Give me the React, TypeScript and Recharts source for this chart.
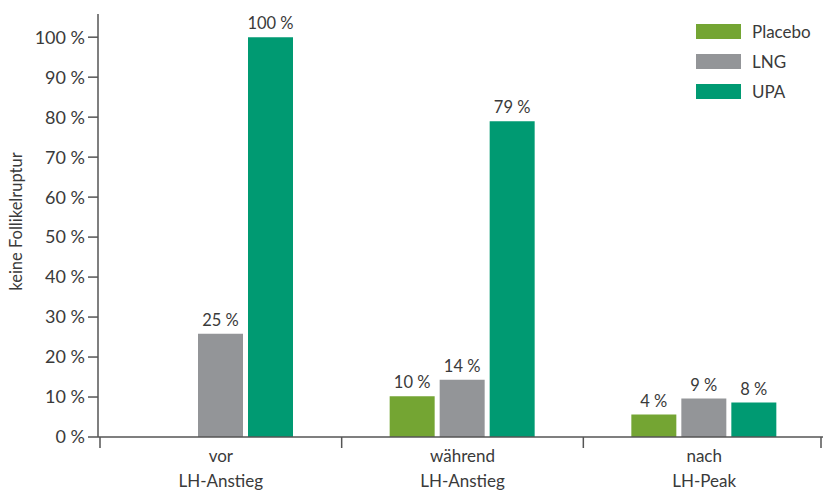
import { BarChart, Bar, XAxis, YAxis, LabelList, Legend } from "recharts"

const categoryTop = ["vor", "während", "nach"]
const categoryBottom = ["LH-Anstieg", "LH-Anstieg", "LH-Peak"]

const placeboValues = [0, 10.2, 5.6]
const lngValues = [25.8, 14.3, 9.6]
const upaValues = [100, 79, 8.6]

const placeboLabels = ["0 %", "10 %", "4 %"]
const lngLabels = ["25 %", "14 %", "9 %"]
const upaLabels = ["100 %", "79 %", "8 %"]

const yTicks = [0, 10, 20, 30, 40, 50, 60, 70, 80, 90, 100]

const series = [
  { key: "placebo", name: "Placebo", color: "#74a533" },
  { key: "lng", name: "LNG", color: "#939598" },
  { key: "upa", name: "UPA", color: "#009a72" },
]

const data = categoryTop.map((top, i) => ({
  name: top,
  bottom: categoryBottom[i],
  placebo: placeboValues[i],
  lng: lngValues[i],
  upa: upaValues[i],
  placeboLabel: placeboLabels[i],
  lngLabel: lngLabels[i],
  upaLabel: upaLabels[i],
}))

const textColor = "#3a3a3a"
const axisColor = "#555555"

function CategoryTick(props: any) {
  const { x, y, payload, index } = props
  const half = payload?.offset ?? 727 / 6
  const row = data[index] ?? data.find((d) => d.name === payload.value)
  return (
    <g>
      <line x1={x - half} x2={x - half} y1={y} y2={y + 11} stroke={axisColor} strokeWidth={1.5} />
      {index === data.length - 1 && (
        <line x1={x + half - 4} x2={x + half - 4} y1={y} y2={y + 11} stroke={axisColor} strokeWidth={1.5} />
      )}
      <text x={x} y={y + 18} textAnchor="middle" dominantBaseline="central" fill={textColor} fontSize={17}>
        {payload.value}
      </text>
      <text x={x} y={y + 43} textAnchor="middle" dominantBaseline="central" fill={textColor} fontSize={17}>
        {row?.bottom}
      </text>
    </g>
  )
}

function LegendBox() {
  return (
    <div>
      {series.map((s) => (
        <div key={s.key} style={{ display: "flex", alignItems: "center", height: 30 }}>
          <div style={{ width: 45, height: 15, background: s.color }} />
          <span style={{ marginLeft: 11, fontSize: 17, color: textColor }}>{s.name}</span>
        </div>
      ))}
    </div>
  )
}

export default function App() {
  return (
    <div style={{ position: "absolute", left: 0, top: 0, width: 823, height: 491, fontFamily: "Lato, sans-serif", background: "#fff" }}>
      <BarChart
        width={823}
        height={491}
        data={data}
        margin={{ top: 14, right: -2, bottom: 0, left: 0 }}
        barSize={45}
        barGap={5}
      >
        <XAxis
          dataKey="name"
          height={54}
          tickSize={0}
          tickMargin={0}
          tickLine={false}
          padding={{ left: 2, right: 0 }}
          axisLine={{ stroke: axisColor, strokeWidth: 1.5 }}
          tick={<CategoryTick />}
          interval={0}
        />
        <YAxis
          width={98}
          domain={[0, 105.8]}
          ticks={yTicks}
          allowDataOverflow
          tickFormatter={(v) => `${v} %`}
          tickSize={10}
          tickMargin={3}
          tick={{ fill: textColor, fontSize: 18 }}
          tickLine={{ stroke: axisColor, strokeWidth: 1.5 }}
          axisLine={{ stroke: axisColor, strokeWidth: 1.5 }}
          label={{
            content: ({ viewBox }: any) => {
              const cx = 16
              const cy = (viewBox?.y ?? 14) + (viewBox?.height ?? 423) / 2 - 4
              return (
                <text
                  x={cx}
                  y={cy}
                  transform={`rotate(-90, ${cx}, ${cy})`}
                  textAnchor="middle"
                  dominantBaseline="central"
                  fill={textColor}
                  fontSize={16.5}
                >
                  keine Follikelruptur
                </text>
              )
            },
          }}
        />
        <Legend
          layout="vertical"
          align="center"
          verticalAlign="middle"
          wrapperStyle={{ top: 16, left: 696, width: 120 }}
          content={<LegendBox />}
        />
        {series.map((s) => (
          <Bar key={s.key} dataKey={s.key} name={s.name} fill={s.color} isAnimationActive={false}>
            <LabelList dataKey={`${s.key}Label`} position="top" offset={8} fill={textColor} fontSize={16.5} />
          </Bar>
        ))}
      </BarChart>
    </div>
  )
}
